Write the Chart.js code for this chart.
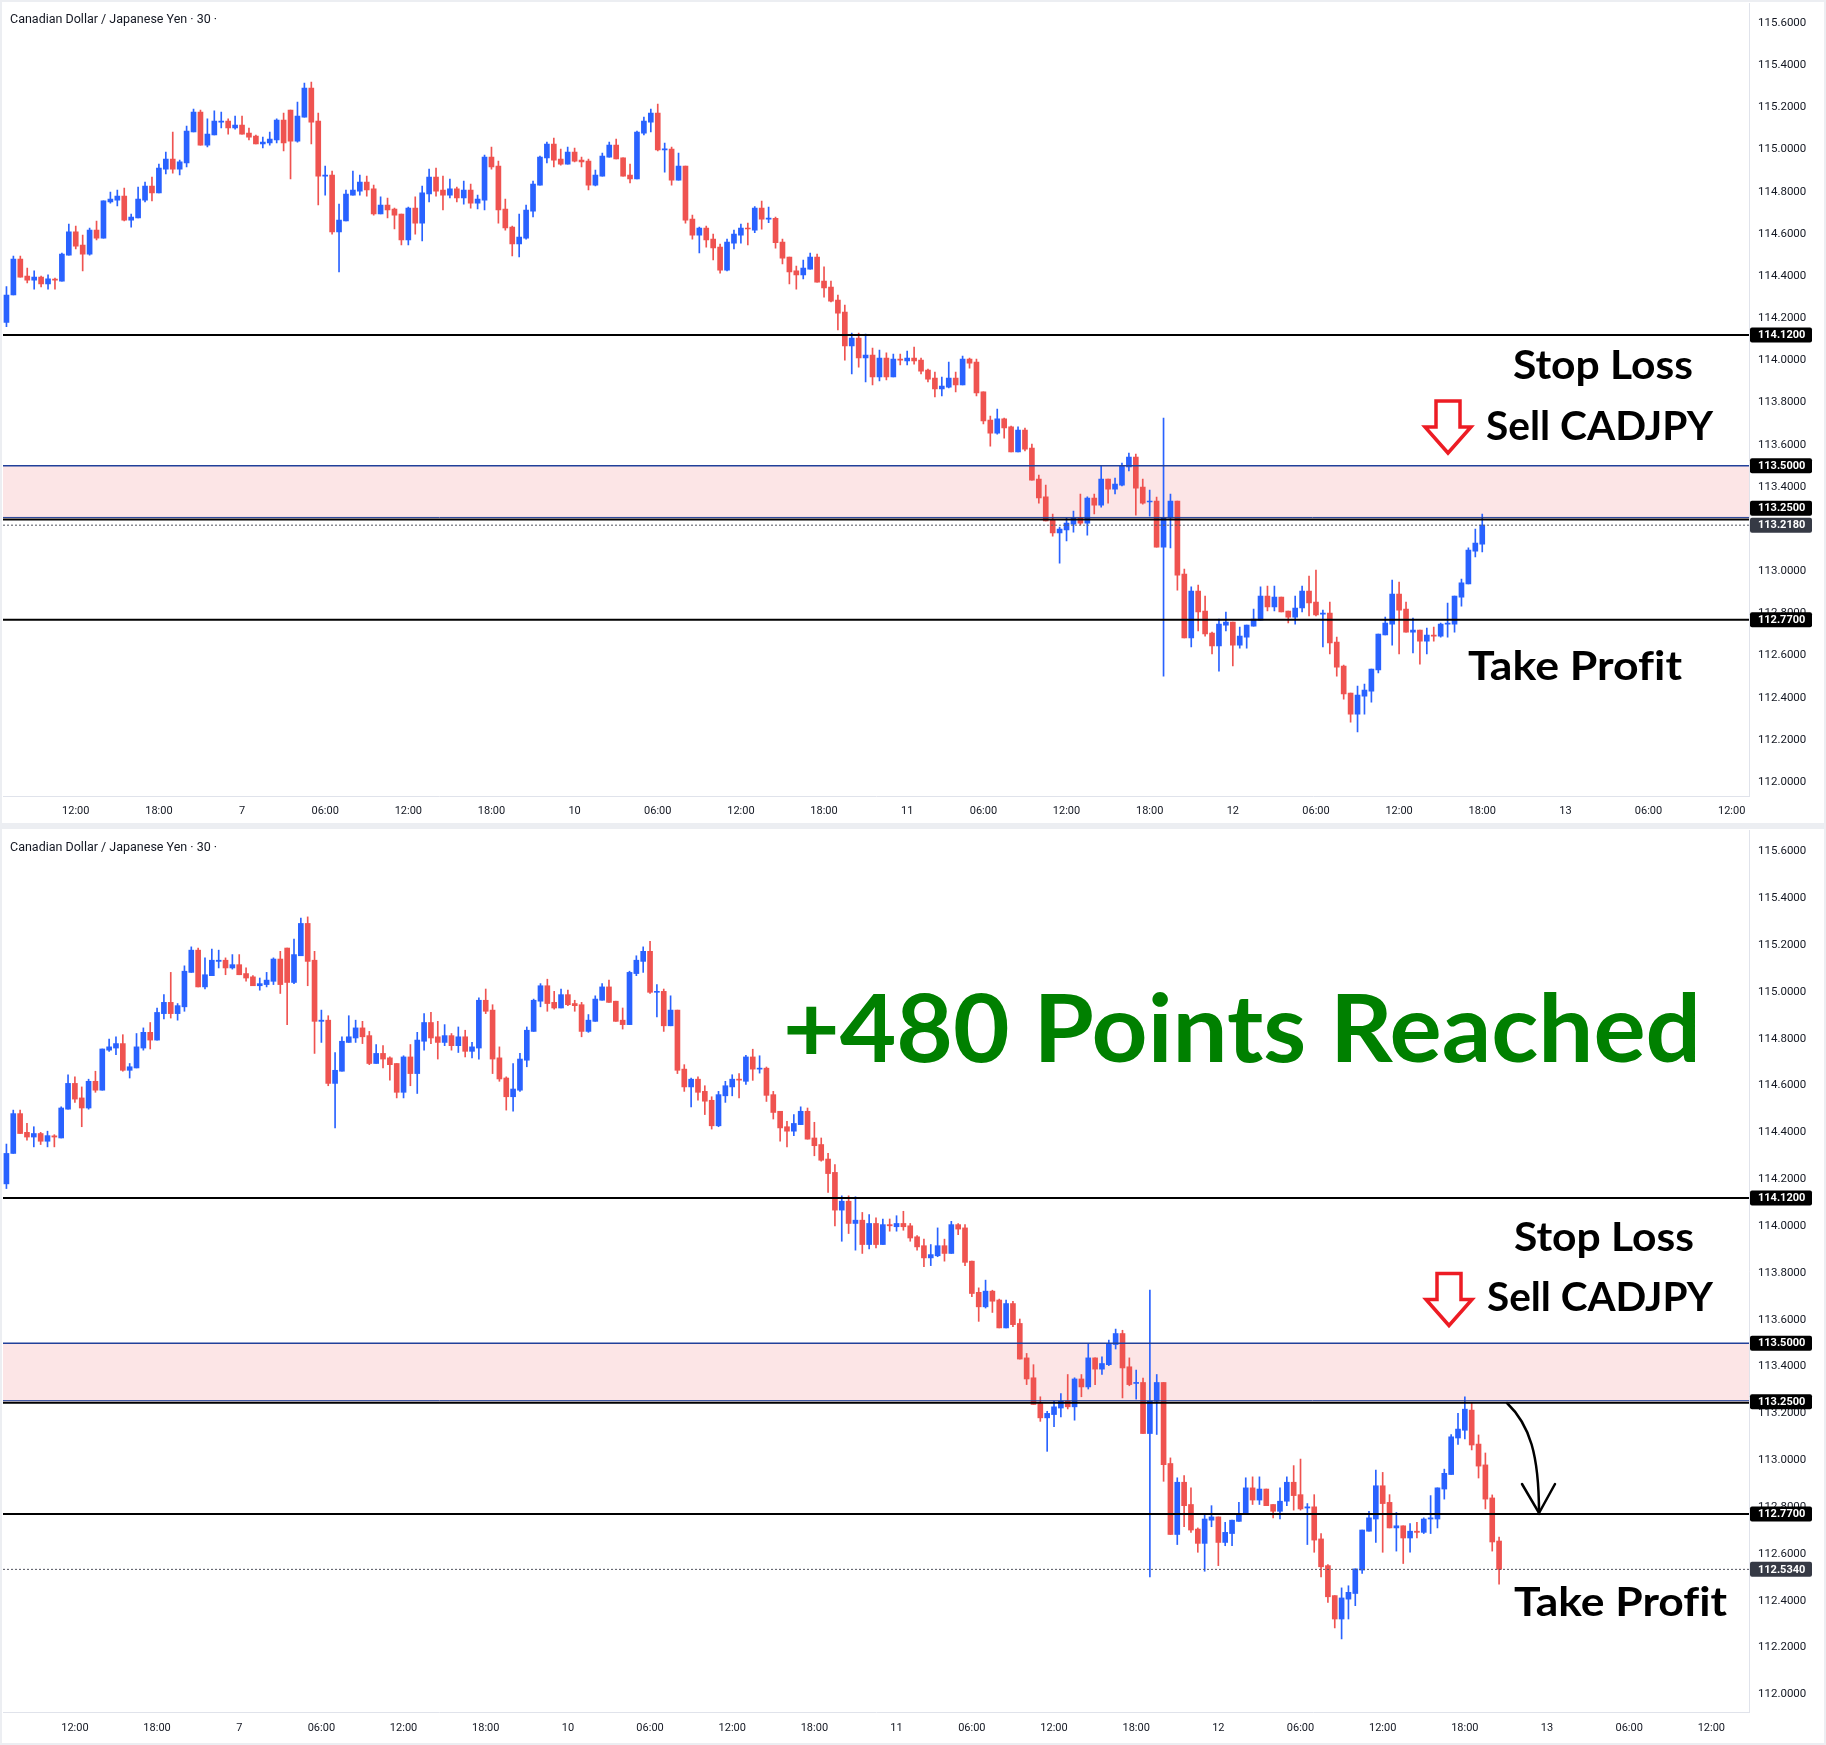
<!DOCTYPE html>
<html lang="en">
<head>
<meta charset="UTF-8">
<title>CADJPY 30m - Sell setup</title>
<script src="https://cdn.jsdelivr.net/npm/chart.js"></script>
<style>
  html, body { margin: 0; padding: 0; }
  body { width: 1826px; height: 1745px; background: #eceef2; position: relative; overflow: hidden; }
  .panel { position: absolute; left: 2px; width: 1822px; background: #fff; }
  #topPanel { top: 2px; height: 821px; }
  #bottomPanel { top: 829px; height: 914px; }
  .title { position: absolute; left: 8px; font: 12.5px Roboto, sans-serif; color: #131722; white-space: nowrap; }
</style>
</head>
<body>
<div class="panel" id="topPanel">
  <canvas id="topChart"></canvas>
  <div class="title" style="top:9px">Canadian Dollar / Japanese Yen · 30 ·</div>
</div>
<div class="panel" id="bottomPanel">
  <canvas id="bottomChart"></canvas>
  <div class="title" style="top:10px">Canadian Dollar / Japanese Yen · 30 ·</div>
</div>

<script>
// CADJPY 30 minute candles
const opens = [
  114.18, 114.31, 114.48, 114.40, 114.38, 114.395, 114.362, 114.385, 114.376, 114.499,
  114.609, 114.547, 114.504, 114.618, 114.580, 114.751, 114.760, 114.779, 114.665, 114.675,
  114.760, 114.827, 114.794, 114.907, 114.955, 114.907, 114.936, 115.083, 115.178, 115.021,
  115.069, 115.130, 115.135, 115.102, 115.116, 115.078, 115.064, 115.026, 115.031, 115.045,
  115.140, 115.187, 115.040, 115.154, 115.292, 115.135, 114.874, 114.879, 114.609, 114.661,
  114.784, 114.803, 114.846, 114.813, 114.694, 114.737, 114.718, 114.694, 114.571, 114.722,
  114.651, 114.789, 114.869, 114.808, 114.784, 114.813, 114.770, 114.808, 114.746, 114.760,
  114.964, 114.922, 114.718, 114.632, 114.552, 114.580, 114.708, 114.831, 114.960, 115.026,
  114.955, 114.931, 114.988, 114.950, 114.945, 114.831, 114.874, 114.964, 115.021, 114.960,
  114.879, 114.860, 115.078, 115.130, 115.173, 114.998, 115.002, 114.855, 114.922, 114.670,
  114.594, 114.627, 114.575, 114.537, 114.428, 114.556, 114.594, 114.627, 114.618, 114.722,
  114.670, 114.674, 114.561, 114.490, 114.424, 114.405, 114.433, 114.490, 114.376, 114.348,
  114.286, 114.229, 114.068, 114.106, 114.011, 114.025, 113.921, 114.011, 113.921, 114.006,
  113.997, 114.011, 114.001, 113.954, 113.916, 113.864, 113.873, 113.916, 113.883, 114.006,
  113.992, 113.850, 113.717, 113.655, 113.722, 113.684, 113.565, 113.669, 113.584, 113.437,
  113.352, 113.242, 113.181, 113.195, 113.223, 113.252, 113.228, 113.347, 113.313, 113.437,
  113.389, 113.408, 113.494, 113.541, 113.399, 113.328, 113.332, 113.114, 113.252, 113.332,
  112.986, 112.683, 112.906, 112.811, 112.706, 112.645, 112.744, 112.758, 112.649, 112.687,
  112.739, 112.768, 112.882, 112.830, 112.877, 112.811, 112.782, 112.825, 112.906, 112.853,
  112.796, 112.801, 112.664, 112.550, 112.422, 112.322, 112.407, 112.431, 112.531, 112.697,
  112.749, 112.891, 112.820, 112.711, 112.720, 112.668, 112.697, 112.692, 112.749, 112.749,
  112.877, 112.939, 113.095, 113.128, 113.214, 113.069, 112.980, 112.839, 112.655
];
const highs = [
  114.35, 114.495, 114.495, 114.438, 114.424, 114.40, 114.405, 114.39, 114.509, 114.646,
  114.637, 114.594, 114.627, 114.661, 114.756, 114.798, 114.808, 114.817, 114.694, 114.822,
  114.846, 114.869, 114.931, 114.988, 115.083, 114.950, 115.111, 115.192, 115.187, 115.145,
  115.183, 115.178, 115.145, 115.159, 115.159, 115.102, 115.069, 115.059, 115.083, 115.145,
  115.173, 115.187, 115.225, 115.315, 115.320, 115.173, 114.922, 114.898, 114.741, 114.808,
  114.898, 114.879, 114.874, 114.831, 114.775, 114.770, 114.722, 114.694, 114.727, 114.775,
  114.827, 114.907, 114.912, 114.874, 114.860, 114.822, 114.850, 114.836, 114.784, 114.974,
  115.012, 114.945, 114.765, 114.637, 114.694, 114.737, 114.850, 114.969, 115.035, 115.054,
  115.002, 115.012, 115.007, 114.964, 114.955, 114.903, 114.983, 115.035, 115.050, 114.960,
  114.931, 115.088, 115.154, 115.192, 115.216, 115.031, 115.012, 114.983, 114.922, 114.689,
  114.632, 114.637, 114.599, 114.552, 114.575, 114.618, 114.646, 114.651, 114.729, 114.755,
  114.727, 114.679, 114.575, 114.490, 114.447, 114.476, 114.509, 114.504, 114.443, 114.376,
  114.310, 114.262, 114.129, 114.129, 114.125, 114.058, 114.049, 114.035, 114.030, 114.030,
  114.044, 114.063, 114.011, 113.959, 113.944, 113.921, 113.992, 113.944, 114.020, 114.011,
  114.006, 113.850, 113.736, 113.769, 113.726, 113.688, 113.684, 113.679, 113.603, 113.456,
  113.408, 113.271, 113.209, 113.252, 113.285, 113.366, 113.352, 113.366, 113.498, 113.437,
  113.442, 113.513, 113.560, 113.555, 113.437, 113.385, 113.351, 113.726, 113.366, 113.332,
  113.010, 112.925, 112.934, 112.882, 112.711, 112.773, 112.806, 112.758, 112.735, 112.744,
  112.820, 112.925, 112.929, 112.929, 112.877, 112.811, 112.882, 112.929, 112.977, 113.005,
  112.815, 112.853, 112.687, 112.554, 112.422, 112.455, 112.464, 112.536, 112.702, 112.782,
  112.958, 112.948, 112.853, 112.777, 112.720, 112.730, 112.735, 112.754, 112.849, 112.882,
  112.962, 113.110, 113.200, 113.271, 113.244, 113.108, 113.031, 112.852, 112.672
];
const lows = [
  114.16, 114.31, 114.395, 114.367, 114.338, 114.348, 114.338, 114.338, 114.376, 114.499,
  114.528, 114.424, 114.499, 114.571, 114.580, 114.746, 114.732, 114.661, 114.632, 114.675,
  114.751, 114.756, 114.794, 114.884, 114.888, 114.879, 114.917, 115.083, 115.021, 115.012,
  115.069, 115.102, 115.073, 115.097, 115.073, 115.045, 115.026, 115.007, 115.021, 115.031,
  114.993, 114.860, 115.035, 115.154, 115.026, 114.737, 114.784, 114.599, 114.419, 114.661,
  114.784, 114.784, 114.779, 114.689, 114.694, 114.675, 114.623, 114.547, 114.547, 114.599,
  114.566, 114.751, 114.779, 114.713, 114.770, 114.751, 114.741, 114.722, 114.718, 114.713,
  114.907, 114.651, 114.618, 114.495, 114.490, 114.575, 114.680, 114.831, 114.936, 114.917,
  114.926, 114.931, 114.941, 114.917, 114.808, 114.827, 114.874, 114.964, 114.955, 114.874,
  114.841, 114.860, 115.069, 115.083, 114.993, 114.893, 114.831, 114.855, 114.651, 114.575,
  114.509, 114.537, 114.476, 114.414, 114.424, 114.528, 114.556, 114.547, 114.605, 114.622,
  114.653, 114.532, 114.457, 114.362, 114.338, 114.386, 114.433, 114.371, 114.300, 114.277,
  114.144, 114.001, 113.935, 113.968, 113.897, 113.883, 113.902, 113.907, 113.921, 113.978,
  113.978, 113.982, 113.935, 113.897, 113.826, 113.831, 113.869, 113.850, 113.883, 113.963,
  113.831, 113.698, 113.593, 113.650, 113.631, 113.565, 113.565, 113.570, 113.432, 113.323,
  113.238, 113.166, 113.038, 113.143, 113.185, 113.219, 113.171, 113.271, 113.304, 113.323,
  113.366, 113.404, 113.475, 113.266, 113.318, 113.261, 113.114, 112.502, 113.110, 112.910,
  112.683, 112.640, 112.716, 112.692, 112.607, 112.526, 112.716, 112.550, 112.635, 112.635,
  112.739, 112.768, 112.811, 112.811, 112.806, 112.754, 112.749, 112.806, 112.787, 112.787,
  112.640, 112.607, 112.502, 112.393, 112.284, 112.237, 112.322, 112.379, 112.517, 112.697,
  112.649, 112.607, 112.711, 112.612, 112.559, 112.607, 112.668, 112.687, 112.687, 112.711,
  112.834, 112.939, 113.067, 113.091, 113.044, 112.924, 112.792, 112.612, 112.471
];
const closes = [
  114.31, 114.48, 114.395, 114.38, 114.395, 114.362, 114.386, 114.38, 114.504, 114.609,
  114.542, 114.504, 114.618, 114.580, 114.756, 114.765, 114.779, 114.665, 114.680, 114.765,
  114.827, 114.794, 114.912, 114.955, 114.907, 114.941, 115.088, 115.178, 115.021, 115.073,
  115.135, 115.135, 115.102, 115.116, 115.073, 115.059, 115.026, 115.035, 115.050, 115.140,
  115.031, 115.040, 115.159, 115.292, 115.130, 114.874, 114.879, 114.609, 114.665, 114.789,
  114.808, 114.846, 114.808, 114.694, 114.737, 114.713, 114.689, 114.571, 114.722, 114.651,
  114.794, 114.869, 114.803, 114.784, 114.813, 114.770, 114.808, 114.746, 114.765, 114.964,
  114.917, 114.713, 114.628, 114.552, 114.585, 114.713, 114.836, 114.964, 115.026, 114.950,
  114.931, 114.988, 114.945, 114.941, 114.831, 114.879, 114.969, 115.021, 114.955, 114.874,
  114.860, 115.083, 115.135, 115.173, 114.998, 115.002, 114.855, 114.922, 114.665, 114.594,
  114.627, 114.571, 114.533, 114.428, 114.561, 114.599, 114.627, 114.623, 114.722, 114.670,
  114.674, 114.558, 114.485, 114.419, 114.405, 114.438, 114.490, 114.371, 114.343, 114.281,
  114.224, 114.068, 114.106, 114.011, 114.025, 113.921, 114.011, 113.921, 114.006, 114.001,
  114.011, 113.997, 113.949, 113.911, 113.864, 113.878, 113.916, 113.883, 114.006, 113.987,
  113.845, 113.712, 113.655, 113.722, 113.679, 113.565, 113.669, 113.579, 113.432, 113.347,
  113.238, 113.181, 113.200, 113.228, 113.252, 113.228, 113.347, 113.313, 113.437, 113.389,
  113.413, 113.499, 113.541, 113.394, 113.323, 113.332, 113.114, 113.252, 113.332, 112.981,
  112.683, 112.906, 112.806, 112.702, 112.645, 112.749, 112.758, 112.649, 112.692, 112.744,
  112.773, 112.882, 112.830, 112.877, 112.806, 112.782, 112.825, 112.906, 112.849, 112.792,
  112.801, 112.659, 112.545, 112.417, 112.322, 112.412, 112.436, 112.536, 112.702, 112.754,
  112.891, 112.815, 112.711, 112.720, 112.668, 112.697, 112.692, 112.749, 112.754, 112.882,
  112.944, 113.100, 113.133, 113.218, 113.065, 112.975, 112.834, 112.651, 112.534
];

// the first screenshot was taken 5 bars earlier than the second one
const topCount = 214;
const bottomCount = 219;

const xTickLabels = ['12:00', '18:00', '7', '06:00', '12:00', '18:00', '10', '06:00', '12:00', '18:00',
  '11', '06:00', '12:00', '18:00', '12', '06:00', '12:00', '18:00', '13', '06:00', '12:00'];
const yTicks = [112.0, 112.2, 112.4, 112.6, 112.8, 113.0, 113.2, 113.4, 113.6, 113.8,
  114.0, 114.2, 114.4, 114.6, 114.8, 115.0, 115.2, 115.4, 115.6];

// trade levels
const stopLoss = 114.12;
const zoneTop = 113.50;
const entry = 113.25;
const takeProfit = 112.77;

const BULL = '#2962ff';
const BEAR = '#ef5350';

// x tick k sits on bar slot 10 + 12k; the feed is one bar short after the "11" tick
function tickSlot(k) {
  return k <= 10 ? 10 + 12 * k : 9 + 12 * k;
}

function fitText(ctx, str, x, baseline, size, width, color) {
  ctx.save();
  ctx.font = 'bold ' + size + 'px Lato, "Open Sans", sans-serif';
  ctx.fillStyle = color;
  ctx.textBaseline = 'alphabetic';
  ctx.textAlign = 'left';
  const w = ctx.measureText(str).width;
  ctx.translate(x, baseline);
  ctx.scale(width / w, 1);
  ctx.fillText(str, 0, 0);
  ctx.restore();
}

function downArrow(ctx, cx, top) {
  ctx.save();
  ctx.beginPath();
  ctx.moveTo(cx - 12, top);
  ctx.lineTo(cx + 12, top);
  ctx.lineTo(cx + 12, top + 26);
  ctx.lineTo(cx + 23, top + 26);
  ctx.lineTo(cx, top + 52);
  ctx.lineTo(cx - 23, top + 26);
  ctx.lineTo(cx - 12, top + 26);
  ctx.closePath();
  ctx.fillStyle = '#fff';
  ctx.fill();
  ctx.lineWidth = 3.5;
  ctx.strokeStyle = '#ed1c24';
  ctx.stroke();
  ctx.restore();
}

function hline(ctx, a, y, color, width, dash) {
  ctx.save();
  ctx.beginPath();
  ctx.setLineDash(dash || []);
  ctx.moveTo(a.left, y);
  ctx.lineTo(a.right, y);
  ctx.lineWidth = width;
  ctx.strokeStyle = color;
  ctx.stroke();
  ctx.restore();
}

function priceTag(ctx, a, y, text, bg) {
  const x = a.right + 1;
  ctx.save();
  ctx.fillStyle = bg;
  ctx.beginPath();
  ctx.roundRect(x, y - 7.5, 62, 15, 2);
  ctx.fill();
  ctx.fillStyle = '#fff';
  ctx.font = 'bold 11px Roboto, sans-serif';
  ctx.textBaseline = 'middle';
  ctx.fillText(text, x + 8, y + 0.5);
  ctx.restore();
}

const tradeLevels = {
  id: 'tradeLevels',
  beforeDatasetsDraw(chart, args, o) {
    const { ctx, chartArea: a, scales: { y } } = chart;
    const yt = y.getPixelForValue(zoneTop), yb = y.getPixelForValue(entry);
    ctx.save();
    ctx.fillStyle = '#fce5e6';
    ctx.fillRect(a.left, yt, a.width, yb - yt);
    ctx.restore();
  },
  afterDatasetsDraw(chart, args, o) {
    const { ctx, chartArea: a, scales: { y } } = chart;
    hline(ctx, a, y.getPixelForValue(o.last), '#50535e', 1, [2, 2]);
    hline(ctx, a, y.getPixelForValue(zoneTop), '#21409a', 1.5);
    hline(ctx, a, y.getPixelForValue(entry) - 1, '#21409a', 1);
    hline(ctx, a, y.getPixelForValue(entry) + 1, '#000', 2);
    hline(ctx, a, y.getPixelForValue(stopLoss), '#000', 2);
    hline(ctx, a, y.getPixelForValue(takeProfit), '#000', 2);
  },
  afterDraw(chart, args, o) {
    const { ctx, chartArea: a, scales: { y } } = chart;
    const lastY = y.getPixelForValue(o.last);
    // level tags step aside when they would sit on the last price tag
    const place = v => {
      const p = y.getPixelForValue(v);
      if (Math.abs(p - lastY) < 17) return p < lastY ? lastY - 17 : lastY + 17;
      return p;
    };
    [stopLoss, zoneTop, entry, takeProfit].forEach(v => {
      priceTag(ctx, a, place(v), v.toFixed(4), '#000');
    });
    priceTag(ctx, a, lastY, o.last.toFixed(4), '#363a45');
    o.draw(ctx);
  }
};

function buildChart(id, n, slots, range, xHeight, xPad, last, draw) {
  const labels = Array.from({ length: slots }, (_, i) => String(i));
  const tickText = {};
  xTickLabels.forEach((t, k) => { tickText[tickSlot(k)] = t; });
  const idx = Array.from({ length: n }, (_, i) => i);
  const colors = idx.map(i => closes[i] >= opens[i] ? BULL : BEAR);

  return new Chart(document.getElementById(id), {
    type: 'bar',
    data: {
      labels: labels,
      datasets: [
        {
          data: idx.map(i => [lows[i], highs[i]]),
          backgroundColor: colors,
          barThickness: 1,
          grouped: false,
          order: 2
        },
        {
          data: idx.map(i => [opens[i], closes[i]]),
          backgroundColor: colors,
          barThickness: 5,
          minBarLength: 1,
          grouped: false,
          order: 1
        }
      ]
    },
    options: {
      responsive: true,
      maintainAspectRatio: false,
      animation: false,
      layout: { padding: { left: 1, top: 1, right: 0, bottom: 0 } },
      plugins: {
        legend: { display: false },
        tooltip: { enabled: false },
        tradeLevels: { last: last, draw: draw }
      },
      scales: {
        x: {
          offset: true,
          grid: { display: false, drawTicks: false },
          border: { display: true, color: '#e0e3eb' },
          ticks: {
            autoSkip: false,
            maxRotation: 0,
            padding: xPad,
            color: '#131722',
            font: { family: 'Roboto', size: 11 },
            callback: (v, i) => tickText[i] || ''
          },
          afterFit: s => { s.height = xHeight; s.paddingLeft = 0; s.paddingRight = 0; }
        },
        y: {
          position: 'right',
          min: range[0],
          max: range[1],
          grid: { display: false, drawTicks: false },
          border: { display: true, color: '#e0e3eb' },
          ticks: {
            padding: 9,
            color: '#131722',
            font: { family: 'Roboto', size: 11.5 },
            callback: v => v.toFixed(4)
          },
          afterBuildTicks: s => { s.ticks = yTicks.map(v => ({ value: v })); },
          afterFit: s => { s.width = 75; s.paddingTop = 0; s.paddingBottom = 0; }
        }
      }
    },
    plugins: [tradeLevels]
  });
}

buildChart('topChart', topCount, 252, [111.931, 115.695], 26.5, 8, closes[topCount - 1], ctx => {
  fitText(ctx, 'Stop Loss', 1511, 377, 41, 180, '#000');
  fitText(ctx, 'Sell CADJPY', 1484, 438, 41, 227, '#000');
  fitText(ctx, 'Take Prof\u200Cit', 1466, 678, 41, 214, '#000');
  downArrow(ctx, 1446, 399);
});

buildChart('bottomChart', bottomCount, 255, [111.925, 115.691], 31, 9.5, closes[bottomCount - 1], ctx => {
  fitText(ctx, '+480 Points Reached', 781, 232.5, 94, 918, '#008000');
  fitText(ctx, 'Stop Loss', 1512, 421.5, 41, 180, '#000');
  fitText(ctx, 'Sell CADJPY', 1485, 481.5, 41, 226, '#000');
  fitText(ctx, 'Take Prof\u200Cit', 1512, 787, 41, 213, '#000');
  downArrow(ctx, 1447, 444.5);
  // curved arrow from the entry level down to take profit
  ctx.save();
  ctx.strokeStyle = '#000';
  ctx.lineWidth = 2.5;
  ctx.lineCap = 'round';
  ctx.beginPath();
  ctx.moveTo(1505, 574);
  ctx.bezierCurveTo(1528, 596, 1537, 626, 1537, 684);
  ctx.stroke();
  ctx.beginPath();
  ctx.moveTo(1520, 655);
  ctx.lineTo(1537, 684);
  ctx.lineTo(1553, 655);
  ctx.stroke();
  ctx.restore();
});
</script>
</body>
</html>
